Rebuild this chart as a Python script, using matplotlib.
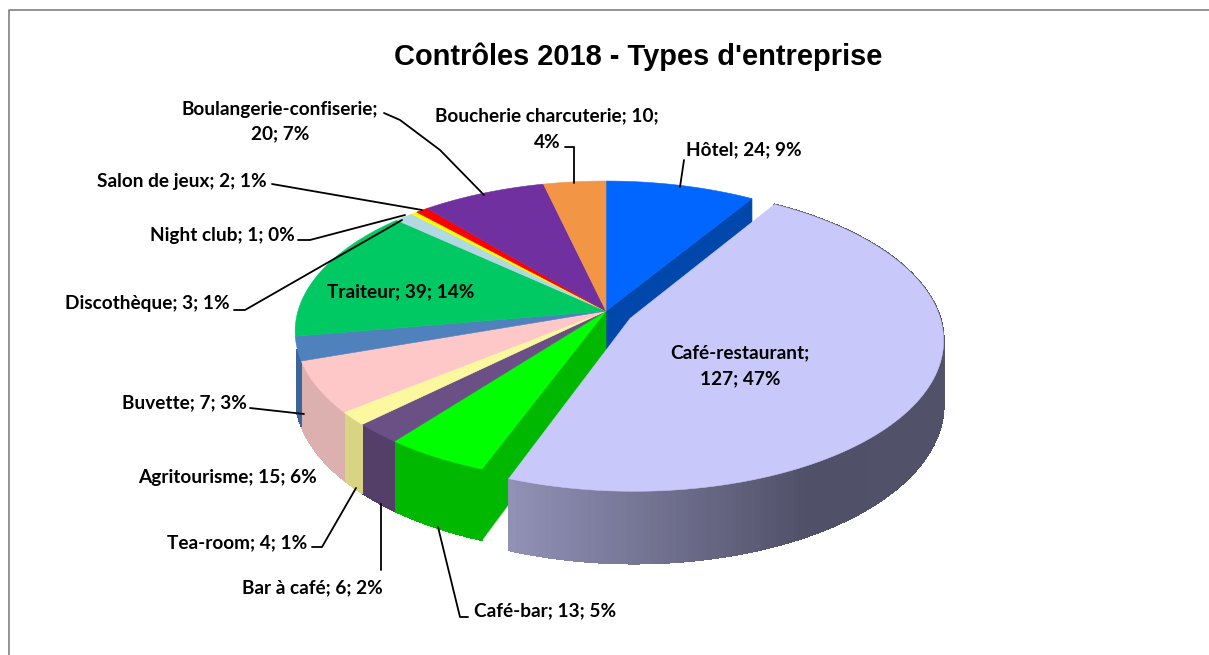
import numpy as np
import matplotlib
matplotlib.use('Agg')
import matplotlib.pyplot as plt
from matplotlib.patches import Polygon

# clockwise from the top
names = ['Hôtel', 'Café-restaurant', 'Café-bar', 'Bar à café', 'Tea-room', 'Agritourisme', 'Buvette',
         'Traiteur', 'Discothèque', 'Night club', 'Salon de jeux', 'Boulangerie-confiserie', 'Boucherie charcuterie']
values = [24, 127, 13, 6, 4, 15, 7, 39, 3, 1, 2, 20, 10]
percents = [9, 47, 5, 2, 1, 6, 3, 14, 1, 0, 1, 7, 4]
top_colors = ['#0066FF', '#C8C8FA', '#00FF00', '#6B5085', '#FBF8A0', '#FFC8C8', '#4F81BD',
              '#00C964', '#B2D8E2', '#FFFF00', '#FF0000', '#7030A0', '#F29646']
side_colors = ['#0047AB', '#50506A', '#00B800', '#533F68', '#D8D484', '#DDB0B0', '#3A669C',
               '#009A4D', '#8CB0B8', '#C8C800', '#C80000', '#552478', '#C87530']
# only these slices show a wall on the outer rim
walled = [1, 2, 3, 4, 5, 6]

title = "Contrôles 2018 - Types d'entreprise"

# projection of the tilted disc
cx, cy = 606, 311
bx, ay, k = 308, 147.5, 0.135
wall = 62
explode = {1: (0.078, -0.049)}


def project(u, v):
    s = 1 / (1 + k * v)
    return cx + bx * u * s, cy - ay * v * s


def wall_h(v):
    return wall / (1 + k * v)


def rim(a0, a1, off):
    t = np.radians(np.linspace(a0, a1, max(int(abs(a1 - a0)), 2) + 1))
    return np.sin(t) + off[0], np.cos(t) + off[1]


def wall_colour(i, a, a1):
    if i != 1:
        return side_colors[i]
    # big slice: light at its left end, dark past the front, a bit lighter at the far right
    gap = a1 - a
    rgb = [np.interp(gap, [0, 50, 110, 170], c) for c in ([0x92, 0x50, 0x52, 0x60],
                                                          [0x92, 0x50, 0x52, 0x60],
                                                          [0xB8, 0x68, 0x6A, 0x76])]
    return np.array(rgb) / 255


def draw_walls(ax, i, a0, a1, off, z):
    u, v = rim(a0, a1, off)
    ang = np.linspace(a0, a1, len(u))
    for j in range(len(u) - 1):
        x0, y0 = project(u[j], v[j])
        x1, y1 = project(u[j + 1], v[j + 1])
        col = wall_colour(i, ang[j], a1)
        ax.add_patch(Polygon([(x0, y0), (x1, y1), (x1, y1 + wall_h(v[j + 1])), (x0, y0 + wall_h(v[j]))],
                             closed=True, fc=col, ec=col, lw=0.8, antialiased=False, zorder=z))


def top_face(i, a0, a1, off):
    u, v = rim(a0, a1, off)
    return [project(off[0], off[1])] + [project(a, b) for a, b in zip(u, v)]


fig = plt.figure(figsize=(12.09, 6.55), dpi=100)
ax = fig.add_axes([0, 0, 1, 1])
ax.set_xlim(0, 1209)
ax.set_ylim(655, 0)
ax.axis('off')

# chart frame
ax.plot([9, 9, 1209], [655, 10, 10], color='#808080', lw=1.2, zorder=1)

angles = np.cumsum([0] + values) / sum(values) * 360

for i in walled:
    if i == 1:
        continue
    end = angles[i + 1]
    if i == 6:
        # Buvette only shows a thin crescent of wall
        end = angles[i] + (angles[i + 1] - angles[i]) * 0.45
    draw_walls(ax, i, angles[i], end, (0, 0), 2)

# cut faces of the neighbours show in the gap left by the big slice
for a, c in ((angles[1], side_colors[0]), (angles[2], side_colors[2])):
    ur, vr = np.sin(np.radians(a)), np.cos(np.radians(a))
    p0, p1 = project(0, 0), project(ur, vr)
    ax.add_patch(Polygon([p0, p1, (p1[0], p1[1] + wall_h(vr)), (p0[0], p0[1] + wall_h(0))],
                         closed=True, fc=c, ec=c, lw=0.5, zorder=3))

for i in range(len(values)):
    if i != 1:
        pts = top_face(i, angles[i], angles[i + 1], (0, 0))
        ax.add_patch(Polygon(pts, closed=True, fc=top_colors[i], ec=top_colors[i], lw=0.4, zorder=4))

# exploded slice goes over everything
off = explode[1]
draw_walls(ax, 1, angles[1], angles[2], off, 5)
ax.add_patch(Polygon(top_face(1, angles[1], angles[2], off), closed=True,
                     fc=top_colors[1], ec=top_colors[1], lw=0.4, zorder=6))

# leader lines
leaders = [
    [(680, 187), (684, 160)],
    [(574, 183), (574, 147), (565, 147)],
    [(484, 195), (440, 150), (400, 120), (384, 113)],
    [(272, 184), (422, 210)],
    [(298, 240), (310, 240), (405, 215)],
    [(234, 310), (245, 310), (402, 220)],
    [(250, 408), (304, 414)],
    [(312, 547), (322, 547), (356, 488)],
    [(381, 570), (381, 504)],
    [(468, 617), (460, 617), (438, 527)],
]
for line in leaders:
    xs, ys = zip(*line)
    ax.plot(xs, ys, color='black', lw=1.3, zorder=8, solid_capstyle='round')

# labels
font = dict(family='Lato', fontweight='bold', fontsize=13.7, color='black', va='center', zorder=10)
ax.text(686, 150, f'{names[0]}; {values[0]}; {percents[0]}%', ha='left', **font)
ax.text(740, 353, f'{names[1]};', ha='center', **font)
ax.text(740, 379, f'{values[1]}; {percents[1]}%', ha='center', **font)
ax.text(474, 611, f'{names[2]}; {values[2]}; {percents[2]}%', ha='left', **font)
ax.text(242, 588, f'{names[3]}; {values[3]}; {percents[3]}%', ha='left', **font)
ax.text(167, 543, f'{names[4]}; {values[4]}; {percents[4]}%', ha='left', **font)
ax.text(138, 477, f'{names[5]}; {values[5]}; {percents[5]}%', ha='left', **font)
ax.text(122, 403, f'{names[6]}; {values[6]}; {percents[6]}%', ha='left', **font)
ax.text(327, 292, f'{names[7]}; {values[7]}; {percents[7]}%', ha='left', **font)
ax.text(65, 303, f'{names[8]}; {values[8]}; {percents[8]}%', ha='left', **font)
ax.text(150, 236, f'{names[9]}; {values[9]}; {percents[9]}%', ha='left', **font)
ax.text(97, 181, f'{names[10]}; {values[10]}; {percents[10]}%', ha='left', **font)
ax.text(280, 109, f'{names[11]};', ha='center', **font)
ax.text(280, 134, f'{values[11]}; {percents[11]}%', ha='center', **font)
ax.text(547, 116, f'{names[12]}; {values[12]};', ha='center', **font)
ax.text(547, 142, f'{percents[12]}%', ha='center', **font)

ax.text(638, 57, title, family='Liberation Sans', fontweight='bold', fontsize=20.9, ha='center', va='center')

fig.savefig('out.png', dpi=100)
